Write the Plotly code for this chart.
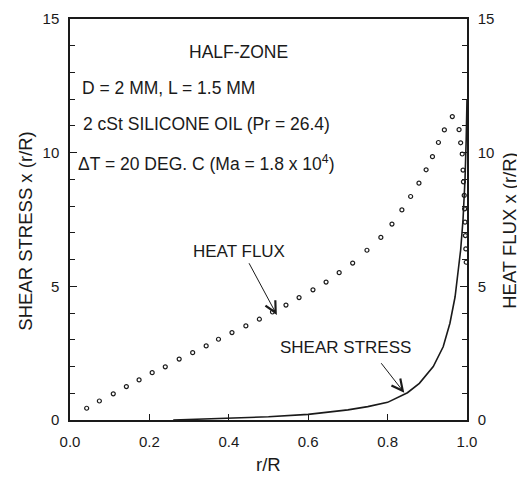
import plotly.graph_objects as go

# Heat flux x (r/R) -- dotted series
hf_x = [0.042, 0.074, 0.109, 0.142, 0.174, 0.207, 0.240, 0.275, 0.309, 0.343, 0.374,
        0.408, 0.443, 0.477, 0.510, 0.544, 0.577, 0.612, 0.645, 0.678, 0.712, 0.748,
        0.783, 0.811, 0.836, 0.858, 0.879, 0.897, 0.913, 0.928, 0.943, 0.963,
        0.980, 0.984, 0.988, 0.990, 0.991, 0.993, 0.994, 0.995, 0.996, 0.997, 0.998]
hf_y = [0.44, 0.71, 0.98, 1.25, 1.50, 1.77, 1.99, 2.28, 2.52, 2.77, 3.02,
        3.27, 3.52, 3.77, 4.04, 4.30, 4.58, 4.87, 5.16, 5.51, 5.87, 6.35,
        6.83, 7.33, 7.86, 8.36, 8.86, 9.36, 9.85, 10.38, 10.85, 11.35,
        10.86, 10.37, 9.95, 9.35, 8.91, 8.40, 7.90, 7.40, 6.90, 6.40, 5.90]

# Shear stress x (r/R) -- solid line
ss_x = [0.26, 0.30, 0.40, 0.50, 0.60, 0.70, 0.75, 0.80, 0.85, 0.88, 0.915, 0.94, 0.957,
        0.970, 0.978, 0.984, 0.990, 0.995, 0.998, 1.000]
ss_y = [0.00, 0.02, 0.06, 0.12, 0.21, 0.38, 0.50, 0.66, 1.02, 1.37, 2.00, 2.74, 3.62,
        4.61, 5.61, 6.36, 7.50, 9.00, 10.50, 12.00]

x_ticks = [0.0, 0.2, 0.4, 0.6, 0.8, 1.0]
x_tick_labels = ["0.0", "0.2", "0.4", "0.6", "0.8", "1.0"]
y_ticks = [0, 5, 10, 15]

FONT = "Liberation Sans, Arial, sans-serif"
INK = "#1a1a1a"

fig = go.Figure()
fig.add_trace(go.Scatter(x=ss_x, y=ss_y, mode="lines",
                         line=dict(color=INK, width=1.6), showlegend=False))
fig.add_trace(go.Scatter(x=hf_x, y=hf_y, mode="markers", yaxis="y2",
                         marker=dict(symbol="circle-open", size=4, color=INK,
                                     line=dict(width=1.2, color=INK)),
                         showlegend=False))

tickfont = dict(family=FONT, size=15, color=INK)
axis_common = dict(showgrid=False, zeroline=False, showline=True, linecolor=INK,
                   linewidth=1.5, ticks="inside", tickcolor=INK, tickfont=tickfont,
                   automargin=False)

# page body adds an 8px margin, so the figure is 8px smaller and margins shifted
fig.update_layout(
    width=517, height=470,
    margin=dict(l=62, r=58, t=11, b=58),
    paper_bgcolor="white", plot_bgcolor="white",
    font=dict(family=FONT, size=15, color=INK),
    xaxis=dict(range=[0, 1], tickvals=x_ticks, ticktext=x_tick_labels, ticklen=6,
               ticklabelstandoff=7, mirror=True, **axis_common),
    yaxis=dict(range=[0, 15], tickvals=y_ticks, ticklen=7, ticklabelstandoff=6,
               minor=dict(dtick=1, ticks="inside", ticklen=5, tickcolor=INK),
               **axis_common),
    yaxis2=dict(range=[0, 15], tickvals=y_ticks, ticklen=7, overlaying="y", side="right",
                ticklabelstandoff=6,
                minor=dict(dtick=1, ticks="inside", ticklen=5, tickcolor=INK),
                **axis_common),
)

# axis titles
titles = [
    ("SHEAR STRESS x (r/R)", -0.113, 0.470, -90),
    ("HEAT FLUX x (r/R)", 1.108, 0.474, -90),
    ("r/R", 0.499, -0.112, 0),
]
for t, x, y, ang in titles:
    fig.add_annotation(text=t, x=x, y=y, xref="paper", yref="paper", showarrow=False,
                       textangle=ang, xanchor="center", yanchor="middle",
                       font=dict(family=FONT, size=18.5, color=INK))

texts = [
    ("HALF-ZONE", 0.424, 13.77, "center"),
    ("D = 2 MM, L = 1.5 MM", 0.026, 12.42, "left"),
    ("2 cSt SILICONE OIL (Pr = 26.4)", 0.028, 11.07, "left"),
    ("ΔT = 20 DEG. C (Ma = 1.8 x 10<sup>4</sup>)", 0.014, 9.61, "left"),
]
for t, x, y, anc in texts:
    fig.add_annotation(text=t, x=x, y=y, xref="x", yref="y", xanchor=anc, yanchor="middle",
                       showarrow=False, font=dict(family=FONT, size=17.5, color=INK))

arrows = [
    ("HEAT FLUX", 0.426, 6.32, 0.449, 5.92, 0.521, 3.93),
    ("SHEAR STRESS", 0.694, 2.72, 0.781, 2.18, 0.842, 1.02),
]
for t, lx, ly, tx, ty, hx, hy in arrows:
    fig.add_annotation(text=t, x=lx, y=ly, xref="x", yref="y", showarrow=False,
                       font=dict(family=FONT, size=17, color=INK))
    fig.add_annotation(text="", x=hx, y=hy, ax=tx, ay=ty, xref="x", yref="y",
                       axref="x", ayref="y", showarrow=True, arrowhead=5, arrowsize=2.2,
                       arrowwidth=1, arrowcolor=INK)

fig.write_html("out.html")
